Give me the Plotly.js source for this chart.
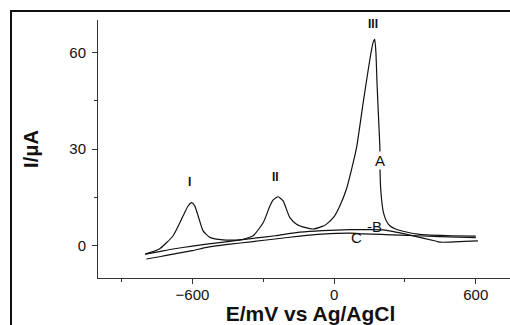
<!DOCTYPE html>
<html>
<head>
<meta charset="utf-8">
<script src="https://cdn.plot.ly/plotly-3.0.1.min.js"></script>
<style>
html, body { margin: 0; padding: 0; overflow: hidden; background: #fff; }
#chart { position: absolute; left: 0; top: 0; }
#frame { position: absolute; left: 10px; top: 10px; width: 700px; height: 500px;
         border: 2px solid #111; pointer-events: none; z-index: 10; }
</style>
</head>
<body>
<div id="chart"></div>
<div id="frame"></div>
<script>
// Potential (mV vs Ag/AgCl) and current (µA) for the three voltammograms
const curveA_E = [-800, -740, -682, -640, -618, -604, -590, -576, -555, -526, -470, -400, -343, -300, -272, -258, -237, -216, -188, -159, -120, -89, -50, -32, 0, 24, 52, 74, 95, 123, 151, 165, 172, 177, 182, 188, 193.9, 194.5, 197, 201, 207, 215, 225, 236, 260, 292, 363, 405, 500, 600];
const curveA_I = [-2.6, -1.0, 3.1, 9.2, 12.4, 13.4, 12.3, 9.3, 4.6, 2.6, 1.8, 1.8, 3.1, 7.2, 12.3, 14.2, 15.2, 13.9, 8.8, 6.7, 5.6, 5.2, 6.0, 6.7, 9.0, 12.3, 17.5, 23.7, 30.4, 44.3, 57.6, 63.0, 64.0, 60.0, 50.0, 40.0, 30.4, 23.7, 18.0, 14.4, 11.0, 8.8, 7.2, 6.2, 5.2, 4.5, 3.5, 3.3, 3.1, 3.0];

const curveB_E = [-800, -740, -682, -600, -540, -450, -343, -250, -145, -50, 66, 151, 208, 321, 434, 449, 609];
const curveB_I = [-2.6, -1.8, -1.0, -0.1, 0.5, 1.3, 2.3, 3.1, 4.2, 4.7, 5.0, 5.0, 4.9, 3.3, 1.4, 1.1, 1.5];

const curveC_E = [-795, -740, -682, -600, -540, -450, -343, -250, -145, -50, 66, 121, 200, 278, 350, 447, 600];
const curveC_I = [-4.1, -3.4, -2.6, -1.5, -0.5, 0.4, 1.3, 2.1, 3.0, 3.6, 3.9, 3.7, 3.5, 3.3, 3.1, 2.8, 2.5];

// Labels
const peakLabels = ["I", "II", "III"];
const peakLabelE = [-611, -247, 165];
const peakLabelI = [19.8, 21.4, 68.7];

const curveLabels = ["A", "-B", "C"];
const curveLabelE = [193.7, 169, 96];
const curveLabelI = [26.5, 6.0, 2.7];

const xTitle = "E/mV vs Ag/AgCl";
const yTitle = "I/\u03bcA";

const fontFam = "Liberation Sans, Arial, Helvetica, sans-serif";
const lineStyle = { color: "#111", width: 1.2, shape: "spline", smoothing: 0.5 };

const traces = [
  { x: curveA_E, y: curveA_I, mode: "lines", line: lineStyle, name: "A", hoverinfo: "x+y" },
  { x: curveB_E, y: curveB_I, mode: "lines", line: lineStyle, name: "B", hoverinfo: "x+y" },
  { x: curveC_E, y: curveC_I, mode: "lines", line: lineStyle, name: "C", hoverinfo: "x+y" }
];

const annotations = [];
peakLabels.forEach((t, i) => annotations.push({
  x: peakLabelE[i], y: peakLabelI[i], xref: "x", yref: "y", text: "<b>" + t + "</b>",
  showarrow: false, font: { family: fontFam, size: 12, color: "#111" }
}));
curveLabels.forEach((t, i) => annotations.push({
  x: curveLabelE[i], y: curveLabelI[i], xref: "x", yref: "y", text: t,
  showarrow: false, font: { family: fontFam, size: 15, color: "#111" },
  bgcolor: t === "A" ? "#fff" : "rgba(0,0,0,0)", borderpad: 0
}));

const axisCommon = {
  showgrid: false, zeroline: false, showline: true, linecolor: "#333", linewidth: 1,
  ticks: "outside", ticklen: 5, tickwidth: 1, tickcolor: "#333",
  tickfont: { family: fontFam, size: 15, color: "#111" }
};

const layout = {
  width: 534, height: 325,
  margin: { l: 98, r: 11, t: 20, b: 47, pad: 0 },
  paper_bgcolor: "#fff", plot_bgcolor: "#fff",
  showlegend: false,
  xaxis: Object.assign({}, axisCommon, {
    range: [-1000, 800], tick0: 0, dtick: 600, ticklabelstandoff: -2,
    minor: { tick0: 0, dtick: 300, ticks: "outside", ticklen: 3, tickcolor: "#333" },
    title: { text: "<b>" + xTitle + "</b>", font: { family: fontFam, size: 21, color: "#111" }, standoff: 3 }
  }),
  yaxis: Object.assign({}, axisCommon, {
    range: [-10, 70], tick0: 0, dtick: 30, ticklabelstandoff: 3,
    minor: { tick0: 0, dtick: 15, ticks: "outside", ticklen: 3, tickcolor: "#333" },
    title: { text: "<b>" + yTitle + "</b>", font: { family: fontFam, size: 20, color: "#111" }, standoff: 25 }
  }),
  annotations: annotations
};

Plotly.newPlot("chart", traces, layout, { displayModeBar: false, staticPlot: true });
</script>
</body>
</html>
